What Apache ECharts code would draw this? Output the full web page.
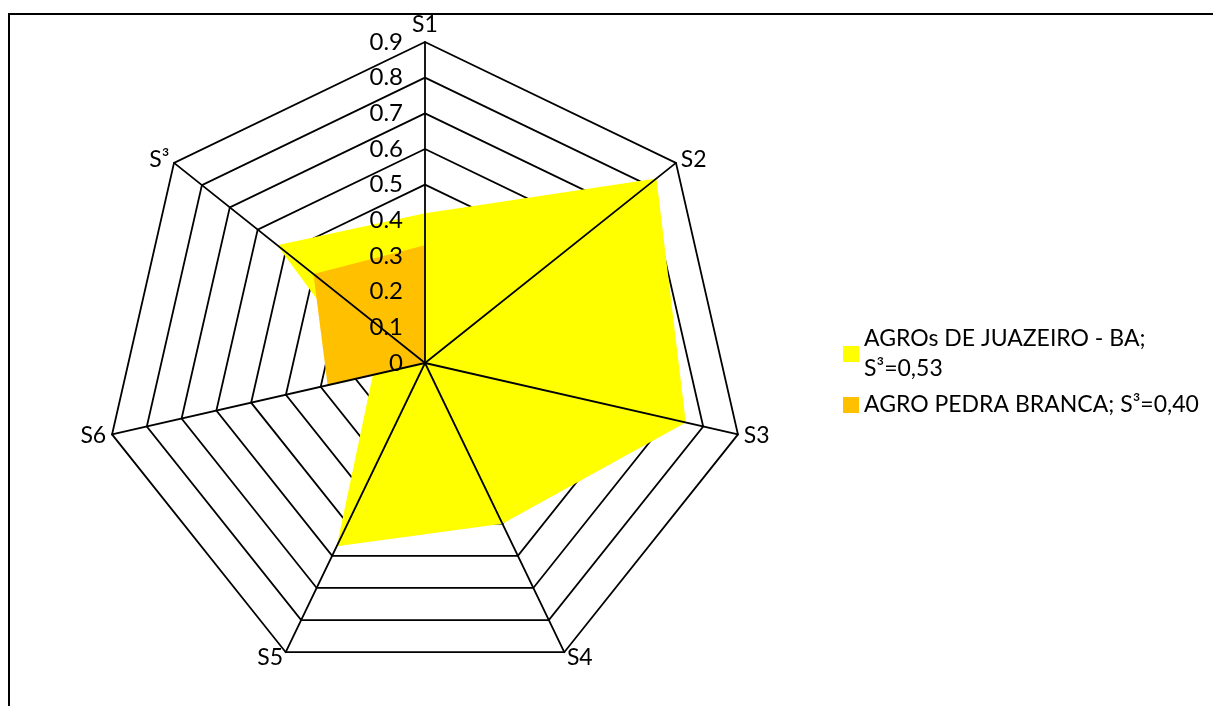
<!DOCTYPE html>
<html>
<head>
<meta charset="utf-8">
<script src="https://cdn.jsdelivr.net/npm/echarts@6/dist/echarts.min.js"></script>
<style>
  html, body { margin: 0; padding: 0; background: #fff; }
  #chart { width: 1213px; height: 706px; }
</style>
</head>
<body>
<div id="chart"></div>
<script>
// eixos do radar, em sentido horário a partir do topo
var axisNames = ['S1', 'S2', 'S3', 'S4', 'S5', 'S6', 'S³'];
var tickLabels = ['0', '0.1', '0.2', '0.3', '0.4', '0.5', '0.6', '0.7', '0.8', '0.9'];
var seriesNames = ['AGROs DE JUAZEIRO - BA;\nS³=0,53', 'AGRO PEDRA BRANCA; S³=0,40'];
var juazeiro = [0.42, 0.83, 0.75, 0.50, 0.57, 0.15, 0.53];
var pedraBranca = [0.33, 0, 0, 0, 0, 0.28, 0.40];

var FONT = 'Lato';
var center = [425, 363];
var radius = 321;

// echarts desenha o radar no sentido anti-horário: inverte a ordem
function ccw(arr) {
  return [arr[0]].concat(arr.slice(1).reverse());
}

var indicators = ccw(axisNames).map(function (n) {
  return { name: n, min: 0, max: 0.9 };
});

var chart = echarts.init(document.getElementById('chart'));

var option = {
  animation: false,
  graphic: [{
    type: 'rect',
    shape: { x: 9, y: 14, width: 1400, height: 900 },
    style: { fill: 'none', stroke: '#000', lineWidth: 2 },
    silent: true
  }],
  legend: {
    orient: 'vertical',
    left: 838,
    top: 319,
    itemWidth: 16,
    itemHeight: 16,
    itemGap: 6,
    icon: 'rect',
    textStyle: { fontFamily: FONT, fontSize: 23, lineHeight: 30, color: '#000' },
    data: seriesNames
  },
  grid: { left: center[0], top: center[1] - radius, height: radius, width: 10, z: 10 },
  xAxis: { type: 'value', show: false },
  yAxis: {
    type: 'value',
    min: 0,
    max: 0.9,
    interval: 0.1,
    z: 10,
    axisLine: { show: false },
    axisTick: { show: false },
    splitLine: { show: false },
    axisLabel: {
      margin: 22,
      fontFamily: FONT,
      fontSize: 24,
      color: '#000',
      formatter: function (v) { return tickLabels[Math.round(v * 10)]; }
    }
  },
  radar: [{
    center: center,
    radius: radius,
    shape: 'polygon',
    splitNumber: 9,
    indicator: indicators,
    z: 1,
    nameGap: 6,
    axisName: { color: '#000', fontFamily: FONT, fontSize: 23 },
    axisLine: { show: false },
    splitLine: { lineStyle: { color: '#000', width: 1.8 } },
    splitArea: { show: false },
    axisLabel: { show: false }
  }, {
    center: center,
    radius: radius,
    shape: 'polygon',
    splitNumber: 9,
    indicator: indicators,
    z: 5,
    axisName: { show: false },
    axisLine: { lineStyle: { color: '#000', width: 1.8 } },
    splitLine: { show: false },
    splitArea: { show: false },
    axisLabel: { show: false }
  }],
  series: [{
    type: 'radar',
    radarIndex: 0,
    z: 2,
    symbol: 'none',
    data: [{
      name: seriesNames[0],
      value: ccw(juazeiro),
      itemStyle: { color: '#FFFF00' },
      lineStyle: { width: 0, opacity: 0 },
      areaStyle: { color: '#FFFF00', opacity: 1 }
    }, {
      name: seriesNames[1],
      value: ccw(pedraBranca),
      itemStyle: { color: '#FFC000' },
      lineStyle: { width: 0, opacity: 0 },
      areaStyle: { color: '#FFC000', opacity: 1 }
    }]
  }]
};

chart.setOption(option);
</script>
</body>
</html>
